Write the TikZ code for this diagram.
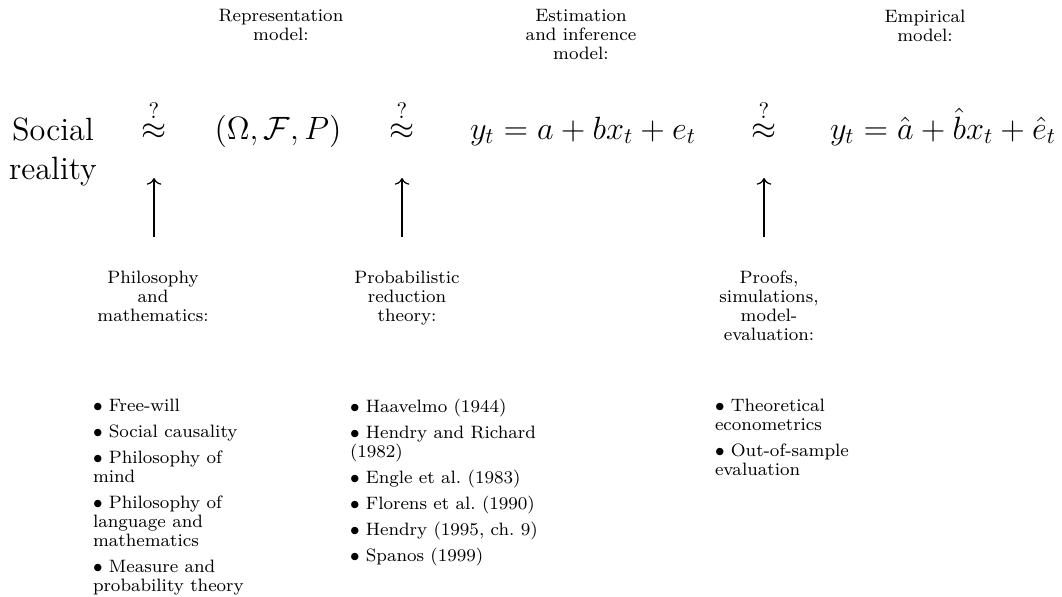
\documentclass[tikz,border=0pt]{standalone}
\usetikzlibrary{arrows.meta}
\newcommand\smallfs{\fontsize{8}{8.5}\selectfont}
\newcommand\bigfs{\fontsize{14.4}{17.4}\selectfont}
\begin{document}
\begin{tikzpicture}[x=0.4464pt,y=-0.4464pt,
  every node/.style={inner sep=0pt, outer sep=0pt},
  lab/.style={font=\smallfs, align=center, anchor=north},
  lst/.style={font=\smallfs, align=left, anchor=north west},
  big/.style={font=\bigfs, anchor=base},
  arr/.style={-{Computer Modern Rightarrow[width=6.5pt,length=3pt]}, line width=0.55pt,
    shorten <=15pt, shorten >=17.4pt}]
\useasboundingbox (0,0) rectangle (1062,596);
% top labels
\node[lab] (rep) at (281,9.6) {Representation\\model:};
\node[lab] (est) at (581,9.6) {Estimation\\and inference\\model:};
\node[lab] (emp) at (925,9.6) {Empirical\\model:};
% main row
\node[big, align=center, anchor=north] (soc) at (53,118) {Social\\reality};
\node[big] (ap1) at (154,139) {$\stackrel{?}{\approx}$};
\node[big] (ome) at (278,139) {$(\Omega,\mathcal{F},P)$};
\node[big] (ap2) at (402,139) {$\stackrel{?}{\approx}$};
\node[big] (eq1) at (583,139) {$y_t=a+bx_t+e_t$};
\node[big] (ap3) at (764,139) {$\stackrel{?}{\approx}$};
\node[big] (eq2) at (943,139) {$y_t=\hat{a}+\hat{b}x_t+\hat{e}_t$};
% bottom headers
\node[lab] (ph) at (153,270.6) {Philosophy\\and\\mathematics:};
\node[lab] (pr) at (407,270.6) {Probabilistic\\reduction\\theory:};
\node[lab] (pf) at (769,270.6) {Proofs,\\simulations,\\model-\\evaluation:};
% arrows
\draw[arr] (ap1.south |- ph.north) -- (ap1.south);
\draw[arr] (ap2.south |- pr.north) -- (ap2.south);
\draw[arr] (ap3.south |- pf.north) -- (ap3.south);
% lists
\node[lst] (l1) at (93,398.6) {$\bullet$ Free-will\\[3.1pt]
  $\bullet$ Social causality\\[3.1pt]
  $\bullet$ Philosophy of\\mind\\[3.1pt]
  $\bullet$ Philosophy of\\language and\\mathematics\\[3.1pt]
  $\bullet$ Measure and\\probability theory};
\node[lst] (l2) at (350,398.6) {$\bullet$ Haavelmo (1944)\\[3.1pt]
  $\bullet$ Hendry and Richard\\(1982)\\[3.1pt]
  $\bullet$ Engle et al.\ (1983)\\[3.1pt]
  $\bullet$ Florens et al.\ (1990)\\[3.1pt]
  $\bullet$ Hendry (1995, ch.~9)\\[3.1pt]
  $\bullet$ Spanos (1999)};
\node[lst] (l3) at (715,398.6) {$\bullet$ Theoretical\\econometrics\\[3.1pt]
  $\bullet$ Out-of-sample\\evaluation};
\end{tikzpicture}
\end{document}
